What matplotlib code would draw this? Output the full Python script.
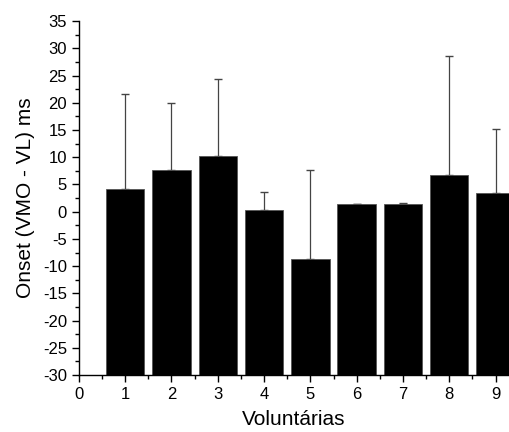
import numpy as np
import matplotlib
matplotlib.use("Agg")
import matplotlib.pyplot as plt
from matplotlib.ticker import MultipleLocator

plt.rcParams["font.family"] = ["Liberation Sans", "DejaVu Sans"]
plt.rcParams["axes.unicode_minus"] = False

voluntarias = [1, 2, 3, 4, 5, 6, 7, 8, 9]
onset = [4.2, 7.65, 10.3, 0.3, -8.7, 1.35, 1.4, 6.7, 3.4]
err_top = [21.6, 20.05, 24.3, 3.7, 7.7, 1.45, 1.55, 28.6, 15.2]

onset = np.array(onset)
err = np.array(err_top) - onset
base = -30

fig = plt.figure(figsize=(5.09, 4.32), dpi=100)
ax = fig.add_axes([0.155, 0.132, 0.845, 0.819])

ax.bar(voluntarias, onset - base, bottom=base, width=0.83,
       color="black", edgecolor="#555555", linewidth=0.6, zorder=2)
ax.errorbar(voluntarias, onset, yerr=[np.zeros_like(err), err], fmt="none",
            ecolor="#444444", elinewidth=0.9, capsize=3, capthick=1.0, zorder=1)

ax.set_xlim(0, 9.29)
ax.set_ylim(-30, 35)
ax.xaxis.set_major_locator(MultipleLocator(1))
ax.xaxis.set_minor_locator(MultipleLocator(0.5))
ax.yaxis.set_major_locator(MultipleLocator(5))
ax.yaxis.set_minor_locator(MultipleLocator(2.5))
ax.tick_params(which="major", direction="out", length=5, width=1, labelsize=12)
ax.tick_params(which="minor", direction="out", length=3, width=1)

for s in ["top", "right"]:
    ax.spines[s].set_visible(False)
for s in ["left", "bottom"]:
    ax.spines[s].set_linewidth(1)

ax.set_xlabel("Voluntárias", fontsize=15, labelpad=6)
ax.set_ylabel("Onset (VMO - VL) ms", fontsize=15, labelpad=6)

fig.savefig("out.png", dpi=100)
